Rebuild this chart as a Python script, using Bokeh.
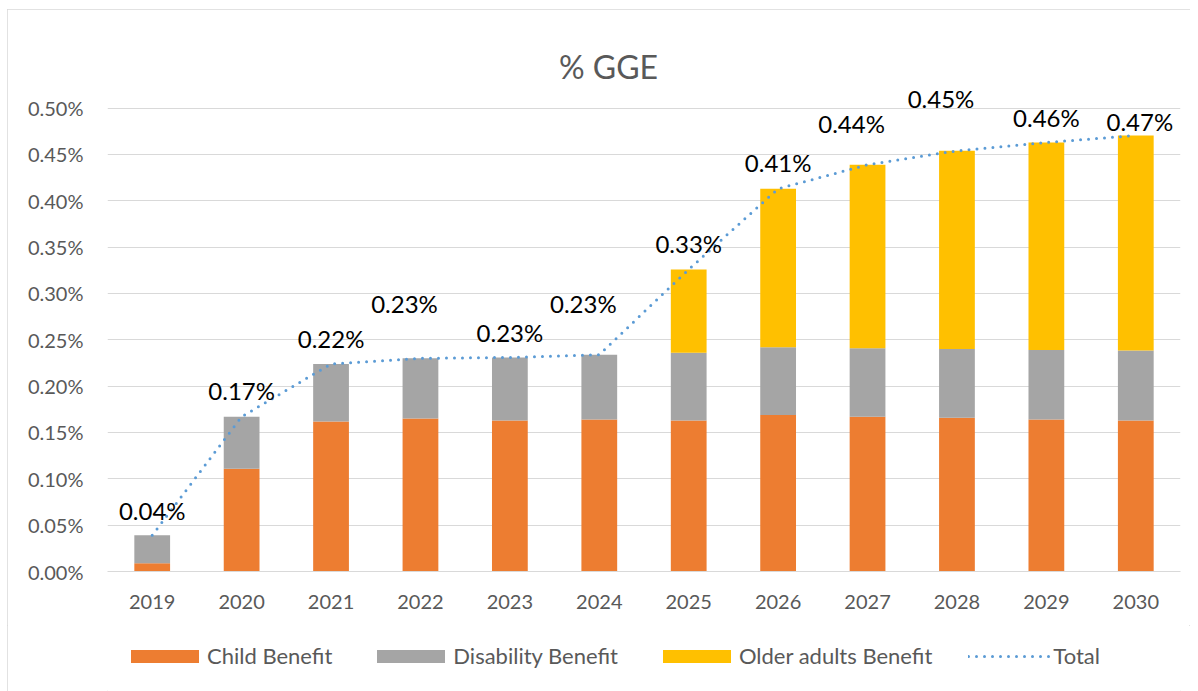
from bokeh.plotting import figure
from bokeh.layouts import column
from bokeh.models import (ColumnDataSource, FactorRange, Range1d, FixedTicker,
                          PrintfTickFormatter, Legend, LegendItem, Label)
from bokeh.core.properties import value
from bokeh.embed import file_html
from bokeh.resources import INLINE

# ---- data (values in % of GGE) ----
years = ["2019", "2020", "2021", "2022", "2023", "2024",
         "2025", "2026", "2027", "2028", "2029", "2030"]
child = [0.009, 0.111, 0.162, 0.165, 0.163, 0.164,
         0.163, 0.169, 0.167, 0.166, 0.164, 0.163]
disability = [0.030, 0.056, 0.062, 0.065, 0.068, 0.070,
              0.073, 0.073, 0.074, 0.074, 0.075, 0.0755]
older = [0.0, 0.0, 0.0, 0.0, 0.0, 0.0,
         0.090, 0.171, 0.198, 0.214, 0.224, 0.232]
y_ticks = [0.0, 0.05, 0.10, 0.15, 0.20, 0.25, 0.30, 0.35, 0.40, 0.45, 0.50]
series_names = ["Child Benefit", "Disability Benefit", "Older adults Benefit", "Total"]
title_text = "% GGE"

# ---- style: manual nudges of the data labels (pixels) ----
label_dx = [0, 0, 0, -16, 0, -16, 0, 0, -16, -16, 0, 4]
label_dy = [-25, -26, -25, -55, -25, -51, -26, -26, -41, -52, -25, -14]

total = [c + d + o for c, d, o in zip(child, disability, older)]
labels = ["%.2f%%" % t for t in total]

FONT = "Lato"
GREY_TXT = "#595959"
colors = ["#ED7D31", "#A5A5A5", "#FFC000"]
LINE_COLOR = "#5B9BD5"

src = ColumnDataSource(dict(year=years, child=child, disability=disability, older=older,
                            total=total, label=labels, dx=label_dx, dy=label_dy))

# ---------------- main chart ----------------
p = figure(x_range=FactorRange(*years, range_padding=0), y_range=Range1d(0, 0.5946),
           width=1183, height=616, output_backend="svg", toolbar_location=None,
           min_border_left=100, min_border_right=10, min_border_top=11, min_border_bottom=54)
p.outline_line_color = None
p.background_fill_color = "white"
p.border_fill_color = "white"

bars = p.vbar_stack(["child", "disability", "older"], x="year", width=0.4,
                    color=colors, line_color=None, source=src)
p.line(x="year", y="total", source=src, line_color=LINE_COLOR, line_width=3,
       line_dash="0 8", line_cap="round")

p.text(x="year", y="total", text="label", x_offset="dx", y_offset="dy", source=src,
       text_font=value(FONT), text_font_size="24px", text_align="center",
       text_baseline="alphabetic", text_color="black")

p.yaxis.ticker = FixedTicker(ticks=y_ticks)
p.yaxis.formatter = PrintfTickFormatter(format="%.2f%%")
for ax in (p.xaxis[0], p.yaxis[0]):
    ax.major_label_text_font = FONT
    ax.major_label_text_font_size = "20px"
    ax.major_label_text_color = GREY_TXT
    ax.major_tick_line_color = None
    ax.minor_tick_line_color = None
    ax.major_tick_out = 0
    ax.minor_tick_out = 0
p.yaxis.axis_line_color = None
p.yaxis.major_label_standoff = 24
p.xaxis.axis_line_color = "#D9D9D9"
p.xaxis.major_label_standoff = 23

p.xgrid.grid_line_color = None
p.ygrid.grid_line_color = "#D9D9D9"
p.ygrid.grid_line_width = 1

p.add_layout(Label(x=501, y=505, x_units="screen", y_units="screen", text=title_text,
                   text_font=FONT, text_font_size="32px", text_color=GREY_TXT,
                   text_align="center", text_baseline="alphabetic"))

# ---------------- legend strip ----------------
lg = figure(x_range=Range1d(0, 1), y_range=Range1d(0, 1), width=1183, height=66,
            output_backend="svg", toolbar_location=None, min_border=0)
lg.axis.visible = False
lg.grid.visible = False
lg.outline_line_color = None
lg.background_fill_color = "white"
lg.border_fill_color = "white"
# proxy glyphs for the legend keys (placed outside the visible range)
proxy_src = ColumnDataSource(dict(x=[-5.0, -4.0], y=[-5.0, -4.0]))
proxies = [lg.vbar(x="x", top="y", width=0.1, color=c, line_color=None, source=proxy_src)
           for c in colors]
proxies.append(lg.line(x="x", y="y", line_color=LINE_COLOR, line_width=3,
                       line_dash="0 8", line_cap="round", source=proxy_src))
items = [LegendItem(label=n, renderers=[r]) for n, r in zip(series_names, proxies)]
legend = Legend(items=items, orientation="horizontal", location=(15, 22),
                glyph_width=85, glyph_height=16, label_standoff=-2, spacing=36,
                padding=0, margin=0, border_line_color=None, background_fill_alpha=0,
                label_text_font=FONT, label_text_font_size="22px",
                label_text_color=GREY_TXT)
lg.add_layout(legend)

layout = column(p, lg, spacing=0)
layout.styles = {"margin-left": "7px", "margin-top": "9px",
                 "outline": "1px solid #D9D9D9", "outline-offset": "-1px"}

open("out.html", "w").write(file_html(layout, INLINE))
